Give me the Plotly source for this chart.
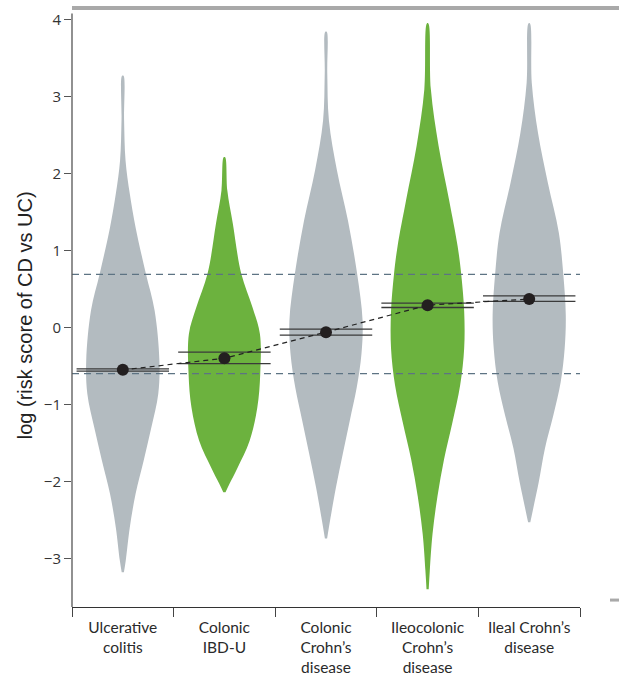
import plotly.graph_objects as go

# ---------------- data ----------------
categories = ["Ulcerative<br>colitis", "Colonic<br>IBD-U", "Colonic<br>Crohn’s<br>disease",
              "Ileocolonic<br>Crohn’s<br>disease", "Ileal Crohn’s<br>disease"]
positions = [1, 2, 3, 4, 5]

# violin density profiles (y level, relative density)
uc_y = [-3.18, -3.03, -2.60, -2.16, -1.73, -1.30, -0.86, -0.43, 0.22, 0.70, 1.30, 1.74, 2.17, 2.70, 3.27]
uc_d = [0.03, 0.08, 0.19, 0.35, 0.57, 0.78, 0.97, 1.00, 0.87, 0.63, 0.35, 0.19, 0.075, 0.035, 0.02]

ibdu_y = [-2.14, -2.03, -1.82, -1.47, -1.04, -0.60, -0.08, 0.26, 0.70, 1.35, 1.78, 2.21]
ibdu_d = [0.03, 0.14, 0.36, 0.69, 0.90, 0.98, 0.97, 0.77, 0.46, 0.23, 0.08, 0.02]

ccd_y = [-2.74, -2.51, -2.08, -1.64, -1.21, -0.78, -0.34, 0.09, 0.70, 1.39, 2.04, 2.69, 3.30, 3.84]
ccd_d = [0.03, 0.11, 0.27, 0.46, 0.65, 0.84, 0.97, 1.00, 0.85, 0.60, 0.30, 0.08, 0.035, 0.02]

icd_y = [-3.40, -3.16, -2.68, -2.19, -1.71, -1.23, -0.75, -0.27, 0.21, 0.69, 1.06, 1.65, 2.36, 3.09, 3.95]
icd_d = [0.03, 0.06, 0.135, 0.27, 0.45, 0.68, 0.89, 1.00, 1.00, 0.92, 0.82, 0.59, 0.30, 0.09, 0.02]

lcd_y = [-2.53, -2.35, -2.01, -1.57, -1.14, -0.71, -0.27, 0.16, 0.70, 1.23, 1.88, 2.53, 3.18, 3.95]
lcd_d = [0.03, 0.11, 0.26, 0.43, 0.66, 0.86, 0.97, 1.00, 0.93, 0.81, 0.51, 0.24, 0.07, 0.02]

profiles_y = [uc_y, ibdu_y, ccd_y, icd_y, lcd_y]
profiles_d = [uc_d, ibdu_d, ccd_d, icd_d, lcd_d]

means = [-0.55, -0.40, -0.06, 0.29, 0.37]
ci_low = [-0.567, -0.47, -0.10, 0.26, 0.34]
ci_high = [-0.536, -0.32, -0.02, 0.317, 0.41]

thresholds = [0.69, -0.60]
y_ticks = [-3, -2, -1, 0, 1, 2, 3, 4]
y_title = "log (risk score of CD vs UC)"

# ---------------- style ----------------
GRAY = "#b3bbc0"
GREEN = "#6cb23e"
violin_colors = [GRAY, GREEN, GRAY, GREEN, GRAY]
MAX_HALF = 0.36
CI_HALF = 0.455
Y_RANGE = [-3.63, 4.15]

fig = go.Figure()

for pos, ys, ds, col in zip(positions, profiles_y, profiles_d, violin_colors):
    xs = [pos + d * MAX_HALF for d in ds] + [pos - d * MAX_HALF for d in reversed(ds)]
    yy = list(ys) + list(reversed(ys))
    fig.add_trace(go.Scatter(x=xs, y=yy, mode="lines", fill="toself", fillcolor=col,
                             line=dict(color=col, width=0, shape="spline", smoothing=1.0),
                             hoverinfo="skip", showlegend=False))

for t in thresholds:
    fig.add_trace(go.Scatter(x=[0.5, 5.5], y=[t, t], mode="lines",
                             line=dict(color="#5d7383", width=1.2, dash="7px,5px"),
                             hoverinfo="skip", showlegend=False))

for pos, lo, hi in zip(positions, ci_low, ci_high):
    for v in (lo, hi):
        fig.add_trace(go.Scatter(x=[pos - CI_HALF, pos + CI_HALF], y=[v, v], mode="lines",
                                 line=dict(color="#3a3a3a", width=1.3),
                                 hoverinfo="skip", showlegend=False))

fig.add_trace(go.Scatter(x=positions, y=means, mode="lines",
                         line=dict(color="#222222", width=1.2, dash="5px,4px"),
                         hoverinfo="skip", showlegend=False))
fig.add_trace(go.Scatter(x=positions, y=means, mode="markers",
                         marker=dict(color="#231f20", size=12),
                         hoverinfo="skip", showlegend=False, xaxis="x2"))

fig.update_layout(
    width=619, height=679,
    margin=dict(l=72, r=39, t=8, b=72, autoexpand=False),
    paper_bgcolor="white", plot_bgcolor="white",
    showlegend=False,
    xaxis=dict(range=[0.5, 5.5], tickvals=[0.5, 1.5, 2.5, 3.5, 4.5, 5.5],
               ticktext=[""] * 6, ticks="outside", ticklen=9, tickwidth=1.2, tickcolor="#444",
               showline=True, linecolor="#333", linewidth=1.3, automargin=False,
               showgrid=False, zeroline=False, fixedrange=True),
    xaxis2=dict(range=[0.5, 5.5], overlaying="x", anchor="y", side="bottom",
                tickvals=positions, ticktext=categories, ticks="", showline=False,
                showgrid=False, zeroline=False, ticklabelstandoff=9, automargin=False,
                tickfont=dict(family="Lato", size=15.5, color="#2a2a2a")),
    yaxis=dict(range=Y_RANGE, tickvals=y_ticks, ticks="outside", ticklen=7, tickwidth=1.2,
               tickcolor="#555", showline=False, showgrid=False, zeroline=False,
               automargin=False,
               tickfont=dict(family="Open Sans", size=15, color="#333")),
    annotations=[
        dict(text=y_title, textangle=-90, xref="paper", yref="y", x=-0.0925, y=0.16,
             xanchor="center", yanchor="middle", showarrow=False,
             font=dict(family="Liberation Sans", size=20, color="#222")),
    ],
    shapes=[
        dict(type="line", xref="paper", yref="y", x0=0, x1=0, y0=Y_RANGE[0], y1=4.08,
             line=dict(color="#555", width=1.3)),
        dict(type="line", xref="paper", yref="paper", x0=0, x1=1.0768, y0=1, y1=1,
             line=dict(color="#a9a9a9", width=4)),
        dict(type="line", xref="paper", yref="y", x0=1.059, x1=1.0768, y0=-3.54, y1=-3.54,
             line=dict(color="#a9a9a9", width=3)),
    ],
)

fig.write_html("out.html")
